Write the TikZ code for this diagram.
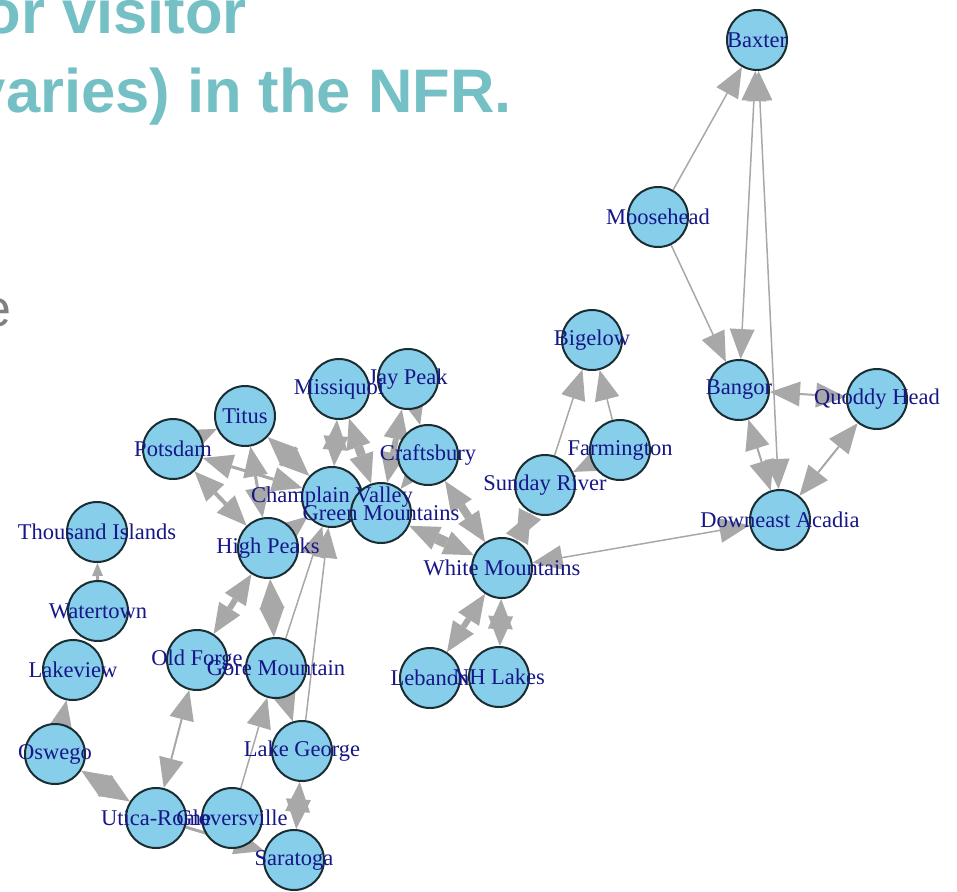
\documentclass[tikz,border=0pt]{standalone}
\usepackage{fontspec}
\setmainfont{Liberation Serif}
\newfontfamily\sansfam{Liberation Sans}
\usetikzlibrary{arrows.meta}
\pgfdeclarelayer{background}
\pgfsetlayers{background,main}
\definecolor{nodefill}{RGB}{135,206,235}
\definecolor{nodeline}{RGB}{25,45,50}
\definecolor{lblcol}{RGB}{22,22,135}
\definecolor{edgecol}{RGB}{168,168,168}
\definecolor{titlecol}{RGB}{117,192,197}
\definecolor{bodygray}{RGB}{128,128,128}
\begin{document}
\begin{tikzpicture}[x=1pt,y=-1pt,
  vtx/.style={circle, fill=nodefill, draw=nodeline, line width=2pt, minimum size=60pt, inner sep=0pt},
  lbl/.style={text=lblcol, font=\fontsize{22.5}{26}\selectfont, inner sep=0pt},
  edg/.style={draw=edgecol, line width=#1, >={Triangle[length=30pt,width=25pt,line width=0pt]}},
  edg/.default=1.5pt,
  smalltip/.style={>={Triangle[length=13pt,width=11pt,line width=0pt]}},
  ttl/.style={text=titlecol, font=\sansfam\bfseries\fontsize{61.5}{70}\selectfont, inner sep=0pt, anchor=base east}
]
\useasboundingbox (0,0) rectangle (957,891);

% title fragments
\node[ttl] (t1) at (247,34) {or visitor};
\node[ttl] (t2) at (512,112) {varies) in the NFR.};
\node[text=bodygray, font=\sansfam\fontsize{52}{60}\selectfont, inner sep=0pt, anchor=base east] (b1) at (12,326) {e};

% vertices
\node[vtx] (baxter) at (757,40) {};
\node[vtx] (moose) at (658,217) {};
\node[vtx] (bangor) at (739,390) {};
\node[vtx] (quoddy) at (877,399) {};
\node[vtx] (downeast) at (780,520) {};
\node[vtx] (bigelow) at (592,340) {};
\node[vtx] (farm) at (620,450) {};
\node[vtx] (sunday) at (545,485) {};
\node[vtx] (whitem) at (502,568) {};
\node[vtx] (lebanon) at (430,678) {};
\node[vtx] (nhlakes) at (499,677) {};
\node[vtx] (jay) at (408,379) {};
\node[vtx] (missi) at (339,389) {};
\node[vtx] (crafts) at (428,455) {};
\node[vtx] (champ) at (332,497) {};
\node[vtx] (green) at (381,513) {};
\node[vtx] (titus) at (245,416) {};
\node[vtx] (potsdam) at (173,449) {};
\node[vtx] (highp) at (268,548) {};
\node[vtx] (thousand) at (97,532) {};
\node[vtx] (water) at (98,611) {};
\node[vtx] (lakev) at (73,670) {};
\node[vtx] (oswego) at (55,754) {};
\node[vtx] (oldf) at (197,660) {};
\node[vtx] (gore) at (276,668) {};
\node[vtx] (lakeg) at (302,751) {};
\node[vtx] (utica) at (156,818) {};
\node[vtx] (glov) at (232,818) {};
\node[vtx] (sara) at (294,860) {};

% labels
\node[lbl] (lbaxter) at (baxter) {Baxter};
\node[lbl] (lmoose) at (moose) {Moosehead};
\node[lbl] (lbangor) at (bangor) {Bangor};
\node[lbl] (lquoddy) at (quoddy) {Quoddy Head};
\node[lbl] (ldowneast) at (downeast) {Downeast Acadia};
\node[lbl] (lbigelow) at (bigelow) {Bigelow};
\node[lbl] (lfarm) at (farm) {Farmington};
\node[lbl] (lsunday) at (sunday) {Sunday River};
\node[lbl] (lwhitem) at (whitem) {White Mountains};
\node[lbl] (llebanon) at (lebanon) {Lebanon};
\node[lbl] (lnhlakes) at (nhlakes) {NH Lakes};
\node[lbl] (ljay) at (jay) {Jay Peak};
\node[lbl] (lmissi) at (missi) {Missiquoi};
\node[lbl] (lcrafts) at (crafts) {Craftsbury};
\node[lbl] (lchamp) at (champ) {Champlain Valley};
\node[lbl] (lgreen) at (green) {Green Mountains};
\node[lbl] (ltitus) at (titus) {Titus};
\node[lbl] (lpotsdam) at (potsdam) {Potsdam};
\node[lbl] (lhighp) at (highp) {High Peaks};
\node[lbl] (lthousand) at (thousand) {Thousand Islands};
\node[lbl] (lwater) at (water) {Watertown};
\node[lbl] (llakev) at (lakev) {Lakeview};
\node[lbl] (loswego) at (oswego) {Oswego};
\node[lbl] (loldf) at (oldf) {Old Forge};
\node[lbl] (lgore) at (gore) {Gore Mountain};
\node[lbl] (llakeg) at (lakeg) {Lake George};
\node[lbl] (lutica) at (utica) {Utica-Rome};
\node[lbl] (lglov) at (glov) {Gloversville};
\node[lbl] (lsara) at (sara) {Saratoga};

% edges
\begin{pgfonlayer}{background}
\draw[edg,->] (moose) -- (baxter);
\draw[edg,->] (moose) -- (bangor);
\draw[edg,<->] (bangor) -- (baxter);
\draw[edg,<->] (downeast) -- (baxter);
\draw[edg=2pt,<->] (quoddy) -- (bangor);
\draw[edg=2pt,<->] (bangor) -- (downeast);
\draw[edg=2pt,<->] (quoddy) -- (downeast);
\draw[edg,<->] (whitem) -- (downeast);
\draw[edg,->] (sunday) -- (bigelow);
\draw[edg,->] (farm) -- (bigelow);
\draw[edg=9pt,<->] (farm) -- (sunday);
\draw[edg=9pt,<->] (sunday) -- (whitem);
\draw[edg=6pt,<->] (lebanon) -- (whitem);
\draw[edg=6pt,<->] (nhlakes) -- (whitem);
\draw[edg=11pt,<->] (green) -- (whitem);
\draw[edg=8pt,<->] (crafts) -- (whitem);
\draw[edg=5pt,<->] (jay) -- (crafts);
\draw[edg=6pt,<->] (jay) -- (green);
\draw[edg=5pt,<->] (missi) -- (champ);
\draw[edg=9pt,<->] (missi) -- (green);
\draw[edg=7pt,<->] (crafts) -- (green);
\draw[edg=7pt,<->] (potsdam) -- (titus);
\draw[edg=3pt,<->] (potsdam) -- (champ);
\draw[edg=4pt,<->] (potsdam) -- (highp);
\draw[edg=4pt,<->] (titus) -- (champ);
\draw[edg=3pt,<->] (titus) -- (highp);
\draw[edg=7pt,<->] (highp) -- (champ);
\draw[edg=6pt,<->] (highp) -- (oldf);
\draw[edg=6pt,<->] (highp) -- (gore);
\draw[edg,->] (gore) -- (champ);
\draw[edg,->] (lakeg) -- (champ);
\draw[edg,->] (glov) -- (gore);
\draw[edg=6pt,<->] (gore) -- (lakeg);
\draw[edg=5pt,<->] (lakeg) -- (sara);
\draw[edg=3pt,->] (utica) -- (sara);
\draw[edg=2pt,<->] (oldf) -- (utica);
\draw[edg=5pt,<->] (oswego) -- (utica);
\draw[edg=7pt,->] (oswego) -- (lakev);
\draw[edg=3pt,smalltip,->] (water) -- (thousand);
\end{pgfonlayer}
\end{tikzpicture}
\end{document}
